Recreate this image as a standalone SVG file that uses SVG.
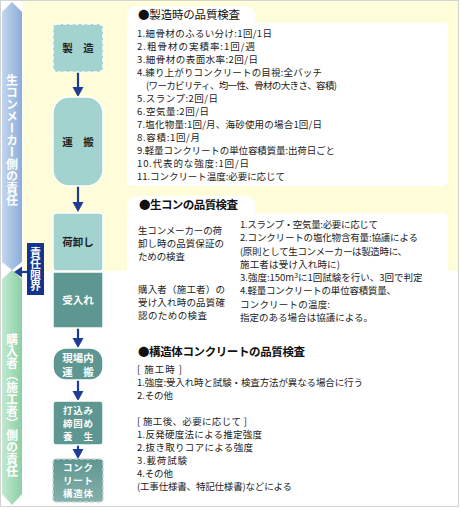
<svg xmlns="http://www.w3.org/2000/svg" width="461" height="510" viewBox="0 0 461 510">
<defs>
<linearGradient id="gBlue" x1="0" y1="0" x2="1" y2="0"><stop offset="0" stop-color="#c3d6ee"/><stop offset="1" stop-color="#8badd9"/></linearGradient>
<linearGradient id="gGreen" x1="0" y1="0" x2="1" y2="0"><stop offset="0" stop-color="#c2e9cf"/><stop offset="1" stop-color="#8ccfa4"/></linearGradient>
<linearGradient id="gConc" x1="0" y1="0" x2="0" y2="1"><stop offset="0" stop-color="#5f9791"/><stop offset="1" stop-color="#86b0ab"/></linearGradient>
</defs>
<style>
text{font-family:"Noto Sans CJK JP","Noto Sans",sans-serif;}
.b{font-size:9.5px;fill:#222;}
.h{font-size:11.5px;fill:#111;font-weight:bold;}
.nl{font-size:10.5px;fill:#222;font-weight:bold;text-anchor:middle;}
.nd{font-size:10.5px;fill:#fff;font-weight:bold;text-anchor:middle;}
.ns{font-size:9.5px;fill:#fff;font-weight:bold;text-anchor:middle;}
.lt{fill:#a3d3cf;stroke:#fff;stroke-width:1.5;}
.dk{fill:#5e9791;stroke:#fff;stroke-width:1.5;}
.vt{writing-mode:vertical-rl;font-size:12px;font-weight:bold;fill:#fff;text-anchor:middle;}
.ar{stroke:#1d3c96;stroke-width:2.2;fill:none;}
.hd{fill:#1d3c96;}
.pill{fill:#fff;}
</style>
<rect x="0" y="0" width="461" height="510" fill="#fff"/>
<rect x="0.5" y="0.5" width="458" height="506" fill="none" stroke="#d4d4d4"/>
<rect x="23" y="1" width="435" height="270" fill="#fffdd9"/>

<g id="maker-responsibility">
<polygon points="2,12 12,2 22,12 22,262 12,270 2,262" fill="url(#gBlue)"/>
<text class="vt" x="12" y="140">生コンメーカー側の責任</text>
</g>
<g id="buyer-responsibility">
<polygon points="2,279 12,270 22,279 22,494 12,505 2,494" fill="url(#gGreen)"/>
<text class="vt" x="12" y="405">購入者（施工者）側の責任</text>
</g>
<g id="boundary">
<rect x="27" y="243" width="17" height="52" fill="#13338c"/>
<text class="vt" x="35.5" y="269" style="font-size:11px">責任限界</text>
</g>

<g id="connectors">
<line class="ar" x1="78" y1="72" x2="78" y2="88"/><path class="hd" d="M72.5,87 L83.5,87 L78,97 Z"/>
<line class="ar" x1="78" y1="186" x2="78" y2="203"/><path class="hd" d="M72.5,202 L83.5,202 L78,212 Z"/>
<line class="ar" x1="78" y1="328" x2="78" y2="339"/><path class="hd" d="M72.5,338 L83.5,338 L78,348 Z"/>
<line class="ar" x1="78" y1="380" x2="78" y2="392"/><path class="hd" d="M72.5,391 L83.5,391 L78,401 Z"/>
<line class="ar" x1="78" y1="445" x2="78" y2="450"/><path class="hd" d="M72.5,449 L83.5,449 L78,459 Z"/>
<line class="ar" x1="27" y1="272" x2="21" y2="272"/><path class="hd" d="M22,266.5 L22,277.5 L14,272 Z"/>
</g>

<g id="node-seizo">
<rect class="lt" x="53" y="24" width="50" height="48" rx="4" stroke-dasharray="4 2"/>
<text class="nl" x="78" y="52">製　造</text>
</g>
<g id="node-unpan">
<rect class="lt" x="53" y="97" width="50" height="89" rx="16"/>
<text class="nl" x="78" y="146">運　搬</text>
</g>
<g id="node-nioroshi">
<rect class="lt" x="53" y="213" width="50" height="58" rx="3"/>
<text class="nl" x="78" y="246">荷卸し</text>
</g>
<g id="node-ukeire">
<rect class="dk" x="53" y="272" width="50" height="56"/>
<text class="nd" x="78" y="304">受入れ</text>
</g>
<g id="node-genba">
<rect class="dk" x="53" y="348" width="50" height="32" rx="13"/>
<text class="nd" x="78" y="362">現場内</text>
<text class="nd" x="78" y="376">運　搬</text>
</g>
<g id="node-uchikomi">
<rect class="dk" x="53" y="401" width="50" height="44" rx="3"/>
<text class="ns" x="78" y="414" textLength="30">打込み</text>
<text class="ns" x="78" y="427" textLength="30">締固め</text>
<text class="ns" x="78" y="440" textLength="30">養　生</text>
</g>
<g id="node-kozotai">
<rect x="53" y="459" width="50" height="43" rx="3" fill="url(#gConc)" stroke="#c8d8d6" stroke-width="1.5" stroke-dasharray="4 2"/>
<text class="ns" x="78" y="471" textLength="30">コンク</text>
<text class="ns" x="78" y="484" textLength="30">リート</text>
<text class="ns" x="78" y="497" textLength="30">構造体</text>
</g>

<g id="section-seizo">
<rect class="pill" x="127" y="6" width="128" height="22" rx="9"/>
<rect fill="#fff" x="127" y="23" width="321" height="163" rx="5"/>
<text class="h" x="138" y="19" style="font-weight:normal" textLength="102">●製造時の品質検査</text>
<text class="b" x="137" y="36.5" textLength="135">1.細骨材のふるい分け:1回/1日</text>
<text class="b" x="137" y="49.5" textLength="118">2.粗骨材の実積率:1回/週</text>
<text class="b" x="137" y="62.5" textLength="121">3.細骨材の表面水率:2回/日</text>
<text class="b" x="137" y="75.5" textLength="185">4.練り上がりコンクリートの目視:全バッチ</text>
<text class="b" x="146" y="88.5" textLength="191">(ワーカビリティ、均一性、骨材の大きさ、容積)</text>
<text class="b" x="137" y="101.5" textLength="81">5.スランプ:2回/日</text>
<text class="b" x="137" y="114.5" textLength="72">6.空気量:2回/日</text>
<text class="b" x="137" y="127.5" textLength="185">7.塩化物量:1回/月、海砂使用の場合1回/日</text>
<text class="b" x="137" y="140.5" textLength="63">8.容積:1回/月</text>
<text class="b" x="137" y="153.5" textLength="198">9.軽量コンクリートの単位容積質量:出荷日ごと</text>
<text class="b" x="137" y="166.5" textLength="112">10.代表的な強度:1回/日</text>
<text class="b" x="137" y="179.5" textLength="148">11.コンクリート温度:必要に応じて</text>
</g>

<g id="section-namacon">
<rect class="pill" x="127" y="196" width="128" height="22" rx="9"/>
<rect fill="#fff" x="127" y="213" width="321" height="120" rx="5"/>
<text class="h" x="139" y="209" textLength="99">●生コンの品質検査</text>
<text class="b" x="138" y="233.5" textLength="84">生コンメーカーの荷</text>
<text class="b" x="138" y="246.5" textLength="86">卸し時の品質保証の</text>
<text class="b" x="138" y="259.5" textLength="47">ための検査</text>
<text class="b" x="138" y="292.5" textLength="87">購入者（施工者）の</text>
<text class="b" x="138" y="305.5" textLength="87">受け入れ時の品質確</text>
<text class="b" x="138" y="318.5" textLength="69">認のための検査</text>
<text class="b" x="240" y="227.5" textLength="138">1.スランプ・空気量:必要に応じて</text>
<text class="b" x="240" y="241" textLength="178">2.コンクリートの塩化物含有量:協議による</text>
<text class="b" x="240" y="254.5" textLength="167">(原則として生コンメーカーは製造時に、</text>
<text class="b" x="240" y="267.5" textLength="100">施工者は受け入れ時に)</text>
<text class="b" x="240" y="281">3.強度:150m<tspan dy="-3.5" font-size="7">3</tspan><tspan dy="3.5">に1回試験を行い、3回で判定</tspan></text>
<text class="b" x="240" y="294" textLength="156">4.軽量コンクリートの単位容積質量、</text>
<text class="b" x="240" y="307.5" textLength="90">コンクリートの温度:</text>
<text class="b" x="240" y="320.5" textLength="133">指定のある場合は協議による。</text>
</g>

<g id="section-kozotai">
<text class="h" x="138" y="356" textLength="167">●構造体コンクリートの品質検査</text>
<text class="b" x="137" y="372.5" textLength="45">[ 施工時 ]</text>
<text class="b" x="137" y="385.5" textLength="226">1.強度:受入れ時と試験・検査方法が異なる場合に行う</text>
<text class="b" x="137" y="398.5" textLength="36">2.その他</text>
<text class="b" x="137" y="424.5" textLength="110">[ 施工後、必要に応じて ]</text>
<text class="b" x="137" y="437.5" textLength="125">1.反発硬度法による推定強度</text>
<text class="b" x="137" y="450.5" textLength="116">2.抜き取りコアによる強度</text>
<text class="b" x="137" y="463.5" textLength="50">3.載荷試験</text>
<text class="b" x="137" y="476.5" textLength="36">4.その他</text>
<text class="b" x="137" y="490" textLength="155">(工事仕様書、特記仕様書)などによる</text>
</g>
</svg>
